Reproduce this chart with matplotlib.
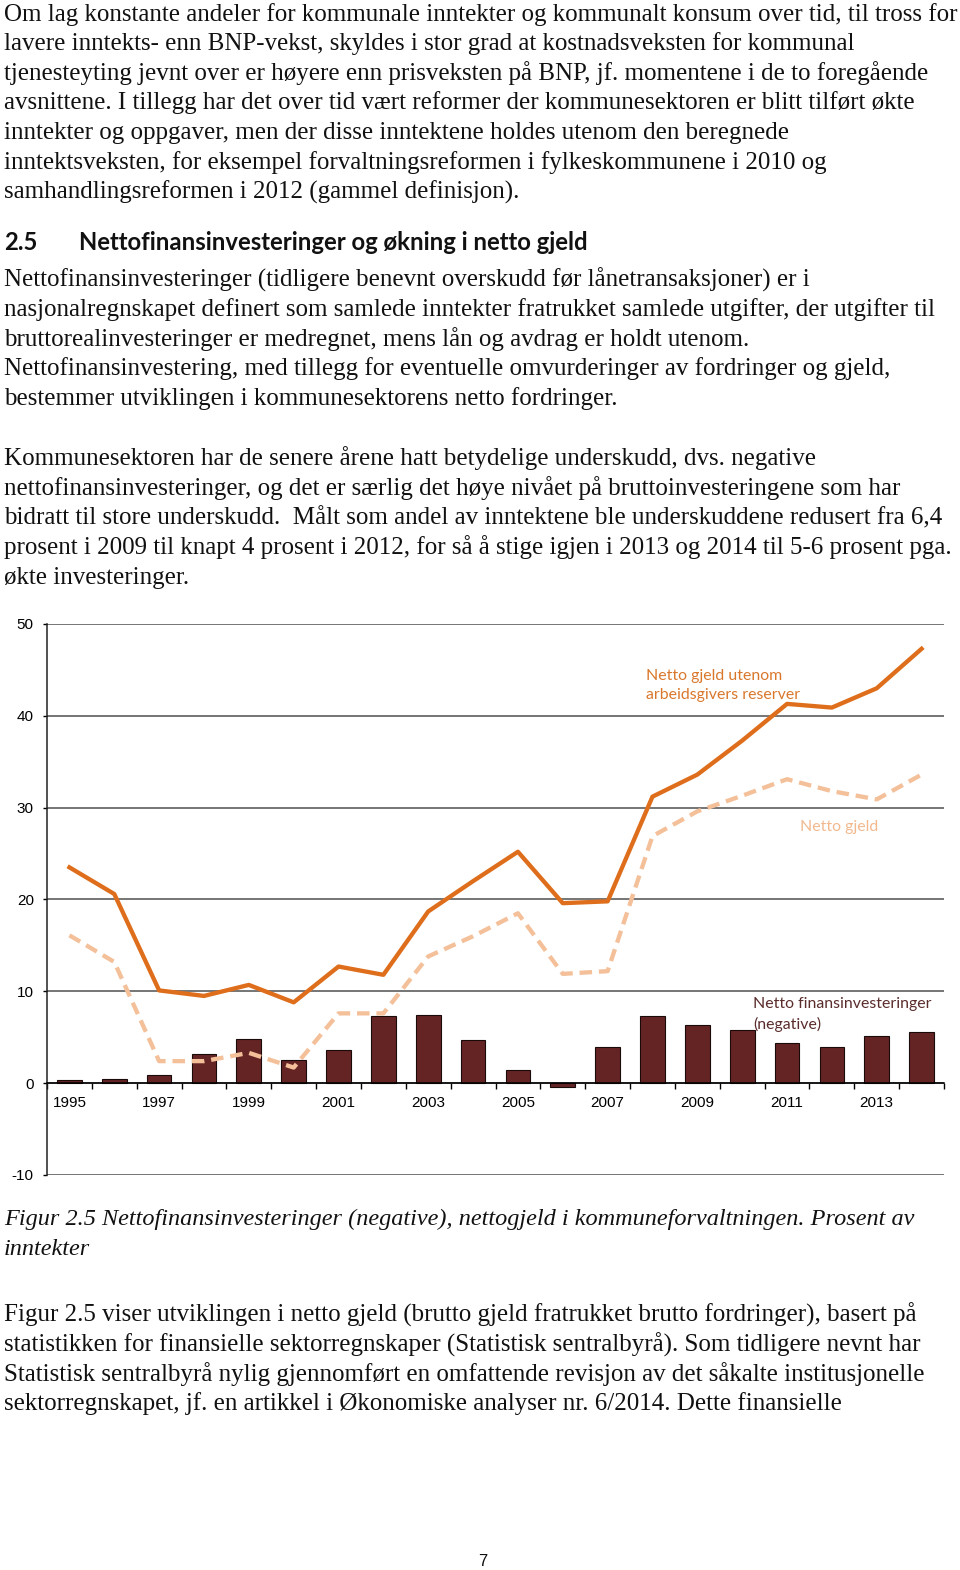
import matplotlib
matplotlib.use("Agg")
import matplotlib.pyplot as plt
import numpy as np

# ---------------- data ----------------
years = list(range(1995, 2015))
year_labels = [str(y) if y % 2 == 1 else "" for y in years]
net_fin_inv_neg = [0.3, 0.4, 0.9, 3.2, 4.8, 2.5, 3.6, 7.3, 7.4, 4.7,
                   1.4, -0.4, 3.9, 7.3, 6.3, 5.8, 4.4, 3.9, 5.1, 5.6]
net_debt_excl_res = [23.5, 20.6, 10.1, 9.5, 10.7, 8.8, 12.7, 11.8, 18.7, 22.0,
                     25.2, 19.6, 19.8, 31.2, 33.6, 37.3, 41.3, 40.9, 43.0, 47.3]
net_debt = [16.1, 13.2, 2.4, 2.4, 3.3, 1.7, 7.6, 7.6, 13.8, 16.0,
            18.5, 11.9, 12.2, 26.9, 29.6, 31.3, 33.1, 31.8, 30.9, 33.6]
y_ticks = [-10, 0, 10, 20, 30, 40, 50]

label_solid = "Netto gjeld utenom\narbeidsgivers reserver"
label_dashed = "Netto gjeld"
label_bars = "Netto finansinvesteringer\n(negative)"

para1 = [
    "Om lag konstante andeler for kommunale inntekter og kommunalt konsum over tid, til tross for",
    "lavere inntekts- enn BNP-vekst, skyldes i stor grad at kostnadsveksten for kommunal",
    "tjenesteyting jevnt over er høyere enn prisveksten på BNP, jf. momentene i de to foregående",
    "avsnittene. I tillegg har det over tid vært reformer der kommunesektoren er blitt tilført økte",
    "inntekter og oppgaver, men der disse inntektene holdes utenom den beregnede",
    "inntektsveksten, for eksempel forvaltningsreformen i fylkeskommunene i 2010 og",
    "samhandlingsreformen i 2012 (gammel definisjon).",
]
heading_num = "2.5"
heading_txt = "Nettofinansinvesteringer og økning i netto gjeld"
para2 = [
    "Nettofinansinvesteringer (tidligere benevnt overskudd før lånetransaksjoner) er i",
    "nasjonalregnskapet definert som samlede inntekter fratrukket samlede utgifter, der utgifter til",
    "bruttorealinvesteringer er medregnet, mens lån og avdrag er holdt utenom.",
    "Nettofinansinvestering, med tillegg for eventuelle omvurderinger av fordringer og gjeld,",
    "bestemmer utviklingen i kommunesektorens netto fordringer.",
]
para3 = [
    "Kommunesektoren har de senere årene hatt betydelige underskudd, dvs. negative",
    "nettofinansinvesteringer, og det er særlig det høye nivået på bruttoinvesteringene som har",
    "bidratt til store underskudd.  Målt som andel av inntektene ble underskuddene redusert fra 6,4",
    "prosent i 2009 til knapt 4 prosent i 2012, for så å stige igjen i 2013 og 2014 til 5-6 prosent pga.",
    "økte investeringer.",
]
caption = [
    "Figur 2.5 Nettofinansinvesteringer (negative), nettogjeld i kommuneforvaltningen. Prosent av",
    "inntekter",
]
para4 = [
    "Figur 2.5 viser utviklingen i netto gjeld (brutto gjeld fratrukket brutto fordringer), basert på",
    "statistikken for finansielle sektorregnskaper (Statistisk sentralbyrå). Som tidligere nevnt har",
    "Statistisk sentralbyrå nylig gjennomført en omfattende revisjon av det såkalte institusjonelle",
    "sektorregnskapet, jf. en artikkel i Økonomiske analyser nr. 6/2014. Dette finansielle",
]
page_no = "7"

# ---------------- figure ----------------
W, H = 960, 1570
fig = plt.figure(figsize=(W / 100, H / 100), dpi=100)
fig.patch.set_facecolor("white")

def fy(y):
    return 1 - y / H

SERIF = ["Liberation Serif", "DejaVu Serif"]
BODY_FS = 18.0
LINE = 29.65

def block(lines, y0, style="normal", fs=BODY_FS):
    for i, t in enumerate(lines):
        fig.text(4 / W, fy(y0 + i * LINE), t, family=SERIF, fontsize=fs,
                 style=style, va="baseline", ha="left", color="#111111")

block(para1, 20.5)
HEAD = ["Lato", "DejaVu Sans"]
fig.text(4 / W, fy(250), heading_num, family=HEAD, fontsize=17.2,
         weight="bold", va="baseline", color="#111111")
fig.text(79 / W, fy(250), heading_txt, family=HEAD, fontsize=17.2,
         weight="bold", va="baseline", color="#111111")
block(para2, 286.5)
block(para3, 465)
block(caption, 1225, style="italic", fs=17.5)
block(para4, 1321.5)
fig.text(483 / W, fy(1566), page_no, family=["Liberation Sans", "DejaVu Sans"],
         fontsize=12, ha="center", va="baseline", color="#111111")

# ---------------- chart ----------------
ax = fig.add_axes([47 / W, fy(1175), (944 - 47) / W, (1175 - 624) / H])
x = np.arange(len(years))

ax.bar(x, net_fin_inv_neg, width=0.55, color="#652424", edgecolor="#1a0a0a",
       linewidth=0.8, zorder=2)
ax.plot(x, net_debt, color="#F4C09A", lw=3.1, linestyle=(0, (2.9, 1.6)), zorder=3)
ax.plot(x, net_debt_excl_res, color="#DE6E1B", lw=3.1, zorder=4)

ax.set_xlim(-0.5, len(years) - 0.5)
ax.set_ylim(-10, 50)
ax.set_yticks(y_ticks)
ax.set_yticklabels([str(v) for v in y_ticks])
ax.yaxis.grid(True, color="#505050", lw=1.1)
ax.set_axisbelow(True)

for s in ["top", "right"]:
    ax.spines[s].set_visible(False)
ax.spines["bottom"].set_position(("data", 0))
ax.spines["bottom"].set_linewidth(1.1)
ax.spines["left"].set_linewidth(1.1)
ax.spines["left"].set_color("#222222")

ax.set_xticks(x)
ax.set_xticklabels(year_labels)
ax.set_xticks(np.arange(-0.5, len(years), 1), minor=True)
ax.tick_params(axis="x", which="major", length=0, pad=9, labelsize=11)
ax.tick_params(axis="x", which="minor", length=4, width=1.0, direction="out")
ax.tick_params(axis="y", length=3, width=1.0, pad=6.5, labelsize=11)
for lab in ax.get_xticklabels() + ax.get_yticklabels():
    lab.set_family(["Liberation Sans", "DejaVu Sans"])

ANN = ["Lato", "DejaVu Sans"]
ax.text(12.86, 43.3, label_solid, color="#D9782D", fontsize=11.4, family=ANN,
        va="center", ha="left", linespacing=1.5)
ax.text(16.29, 27.9, label_dashed, color="#F2B98F", fontsize=11.4, family=ANN,
        va="center", ha="left")
ax.text(15.24, 7.5, label_bars, color="#5B2C2C", fontsize=11.4, family=ANN,
        va="center", ha="left", linespacing=1.5)

fig.savefig("out.png", dpi=100, facecolor="white")
